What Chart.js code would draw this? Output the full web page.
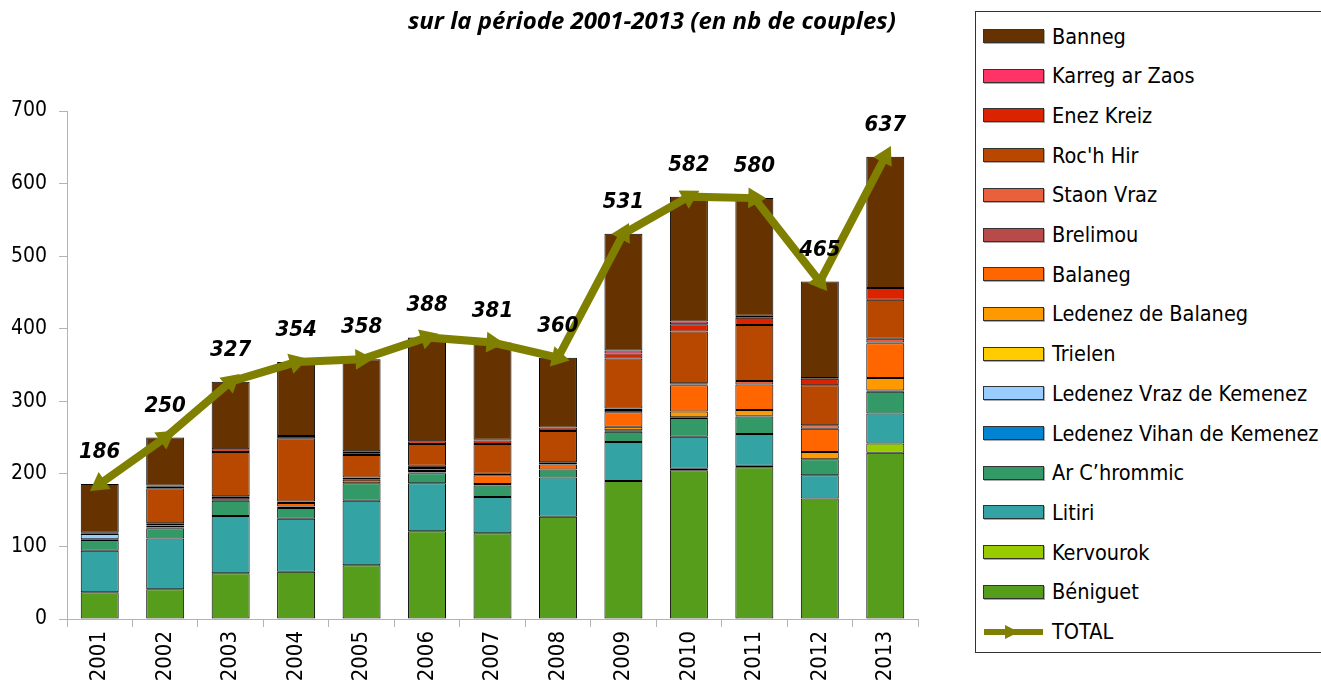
<!DOCTYPE html>
<html lang="fr">
<head>
    <meta charset="UTF-8">
    <title>Effectifs nicheurs par île</title>
    <script src="https://cdn.jsdelivr.net/npm/chart.js"></script>
    <style>
        body {
            margin: 0;
            background: #ffffff;
            width: 1321px;
            height: 686px;
            position: relative;
            overflow: hidden;
            font-family: "DejaVu Sans Condensed", "DejaVu Sans", sans-serif;
        }
        #chart-box {
            position: absolute;
            left: 0;
            top: 0;
            width: 930px;
            height: 686px;
        }
        .title {
            position: absolute;
            left: 408px;
            top: 3px;
            font-family: "Open Sans", sans-serif;
            font-style: italic;
            font-weight: bold;
            font-size: 24px;
            color: #000;
            white-space: nowrap;
        }
        .legend {
            position: absolute;
            left: 975px;
            top: 11px;
            width: 350px;
            height: 642px;
            border: 1px solid #333;
            box-sizing: border-box;
        }
        .legend-item {
            position: absolute;
            left: 7px;
            height: 20px;
            display: flex;
            align-items: center;
            font-size: 21.5px;
            color: #000;
            white-space: nowrap;
        }
        .swatch {
            width: 59px;
            height: 12px;
            border: 1px solid #333;
            margin-right: 8px;
            box-shadow: 1px 1px 0 #aaa;
        }
    </style>
</head>
<body>
    <div id="chart-box"><canvas id="couples-chart" width="930" height="686"></canvas></div>
    <div class="title">sur la période 2001-2013 (en nb de couples)</div>
    <div class="legend" id="legend"></div>

    <script>
        const years = ['2001', '2002', '2003', '2004', '2005', '2006', '2007', '2008', '2009', '2010', '2011', '2012', '2013'];

        // couples per island, bottom of the stack first
        const beniguet       = [37, 41, 63, 65, 74, 121, 118, 141, 190, 205, 209, 166, 229];
        const kervourok      = [0, 0, 0, 0, 0, 0, 0, 0, 0, 2, 2, 0, 13];
        const litiri         = [57, 70, 79, 73, 89, 66, 50, 54, 54, 44, 44, 32, 41];
        const arChrommic     = [15, 14, 21, 15, 24, 14, 16, 11, 14, 26, 24, 22, 30];
        const ledenezVihan   = [1, 1, 1, 2, 0, 1, 2, 0, 1, 0, 0, 0, 0];
        const ledenezVraz    = [7, 3, 0, 0, 0, 2, 0, 0, 0, 0, 0, 0, 0];
        const trielen        = [0, 0, 0, 0, 0, 0, 0, 0, 1, 1, 1, 0, 2];
        const ledenezBalaneg = [0, 0, 0, 0, 0, 0, 0, 0, 5, 8, 8, 10, 17];
        const balaneg        = [0, 0, 1, 5, 5, 4, 12, 7, 20, 36, 35, 32, 48];
        const brelimou       = [1, 2, 3, 2, 1, 3, 0, 2, 3, 1, 0, 0, 1];
        const staonVraz      = [0, 1, 1, 0, 2, 0, 2, 1, 2, 2, 5, 5, 5];
        const rochHir        = [1, 48, 61, 87, 31, 30, 41, 43, 69, 71, 77, 55, 54];
        const enezKreiz      = [0, 3, 4, 3, 4, 4, 5, 5, 7, 10, 10, 9, 16];
        const karregArZaos   = [0, 1, 0, 0, 1, 0, 1, 0, 4, 4, 3, 1, 0];
        const banneg         = [67, 66, 93, 102, 127, 143, 134, 96, 161, 172, 162, 133, 181];

        const total = [186, 250, 327, 354, 358, 388, 381, 360, 531, 582, 580, 465, 637];

        const yTicks = [0, 100, 200, 300, 400, 500, 600, 700];

        const series = [
            { label: 'Béniguet', data: beniguet, color: '#579d1c' },
            { label: 'Kervourok', data: kervourok, color: '#99cc00' },
            { label: 'Litiri', data: litiri, color: '#33a3a3' },
            { label: 'Ar C’hrommic', data: arChrommic, color: '#339966' },
            { label: 'Ledenez Vihan de Kemenez', data: ledenezVihan, color: '#0084d1' },
            { label: 'Ledenez Vraz de Kemenez', data: ledenezVraz, color: '#99ccff' },
            { label: 'Trielen', data: trielen, color: '#ffcc00' },
            { label: 'Ledenez de Balaneg', data: ledenezBalaneg, color: '#ff9900' },
            { label: 'Balaneg', data: balaneg, color: '#ff6600' },
            { label: 'Brelimou', data: brelimou, color: '#b84a4a' },
            { label: 'Staon Vraz', data: staonVraz, color: '#e8613c' },
            { label: "Roc'h Hir", data: rochHir, color: '#b84700' },
            { label: 'Enez Kreiz', data: enezKreiz, color: '#dc2300' },
            { label: 'Karreg ar Zaos', data: karregArZaos, color: '#ff3366' },
            { label: 'Banneg', data: banneg, color: '#663300' }
        ];

        const lineColor = '#808000';
        const axisColor = '#b3b3b3';
        const fontFamily = '"DejaVu Sans Condensed", "DejaVu Sans", sans-serif';

        // arrow heads follow the direction of the line
        function arrowRotation(ctx) {
            const chart = ctx.chart;
            const xs = chart.scales.x, ys = chart.scales.y;
            const i = ctx.dataIndex;
            if (!xs || !ys || i === undefined) return 0;
            const a = i === 0 ? 1 : i - 1;
            const b = i;
            let dx = xs.getPixelForValue(b) - xs.getPixelForValue(a);
            let dy = ys.getPixelForValue(total[b]) - ys.getPixelForValue(total[a]);
            return Math.atan2(dy, dx) * 180 / Math.PI + 90;
        }

        const totalLabels = {
            id: 'totalLabels',
            afterDatasetsDraw(chart) {
                const meta = chart.getDatasetMeta(series.length);
                const ctx = chart.ctx;
                ctx.save();
                ctx.font = 'italic bold 22px ' + fontFamily;
                ctx.fillStyle = '#000';
                ctx.textAlign = 'center';
                ctx.textBaseline = 'alphabetic';
                meta.data.forEach((pt, i) => {
                    ctx.fillText(String(total[i]), pt.x, pt.y - 26);
                });
                ctx.restore();
            }
        };

        const datasets = series.map(s => ({
            type: 'bar',
            label: s.label,
            data: s.data,
            backgroundColor: s.color,
            borderColor: '#000',
            borderWidth: 1,
            borderSkipped: false,
            barPercentage: 0.58,
            categoryPercentage: 1,
            order: 1
        }));

        datasets.push({
            type: 'line',
            label: 'TOTAL',
            data: total,
            stack: 'total',
            borderColor: lineColor,
            backgroundColor: lineColor,
            borderWidth: 8,
            tension: 0,
            fill: false,
            pointStyle: 'triangle',
            pointRadius: 12,
            pointBorderWidth: 0,
            pointBackgroundColor: lineColor,
            pointRotation: arrowRotation,
            order: 0
        });

        const chart = new Chart(document.getElementById('couples-chart').getContext('2d'), {
            data: { labels: years, datasets: datasets },
            plugins: [totalLabels],
            options: {
                responsive: false,
                animation: false,
                layout: { padding: { top: 111, right: 11, left: 0, bottom: 0 } },
                plugins: {
                    legend: { display: false },
                    title: { display: false },
                    tooltip: { enabled: false }
                },
                scales: {
                    x: {
                        stacked: true,
                        offset: true,
                        grid: { display: true, drawOnChartArea: false, offset: true, color: axisColor, tickLength: 8 },
                        border: { color: axisColor },
                        ticks: { color: '#000', font: { family: fontFamily, size: 22 }, minRotation: 90, maxRotation: 90, padding: 4 },
                        afterFit(scale) { scale.height = 67; }
                    },
                    y: {
                        stacked: true,
                        min: 0,
                        max: 700,
                        grid: { display: true, drawOnChartArea: false, color: axisColor, tickLength: 8 },
                        border: { color: axisColor },
                        afterBuildTicks(scale) { scale.ticks = yTicks.map(v => ({ value: v })); },
                        ticks: { color: '#000', font: { family: fontFamily, size: 21 }, padding: 12 },
                        afterFit(scale) { scale.width = 67; }
                    }
                }
            }
        });

        // html legend, same order as the original (top of stack first)
        const legend = document.getElementById('legend');
        const legendItems = series.slice().reverse();
        legendItems.forEach((s, i) => {
            const item = document.createElement('div');
            item.className = 'legend-item';
            item.style.top = (14 + i * 39.7) + 'px';
            item.innerHTML = '<span class="swatch" style="background:' + s.color + '"></span>' + s.label;
            legend.appendChild(item);
        });
        const tot = document.createElement('div');
        tot.className = 'legend-item';
        tot.style.top = (14 + legendItems.length * 39.7) + 'px';
        tot.innerHTML = '<svg width="61" height="20" style="margin-right:8px"><line x1="1" y1="10" x2="60" y2="10" stroke="' + lineColor + '" stroke-width="6"/><polygon points="22,3 36,10 22,17" fill="' + lineColor + '"/></svg>TOTAL';
        legend.appendChild(tot);
    </script>
</body>
</html>
